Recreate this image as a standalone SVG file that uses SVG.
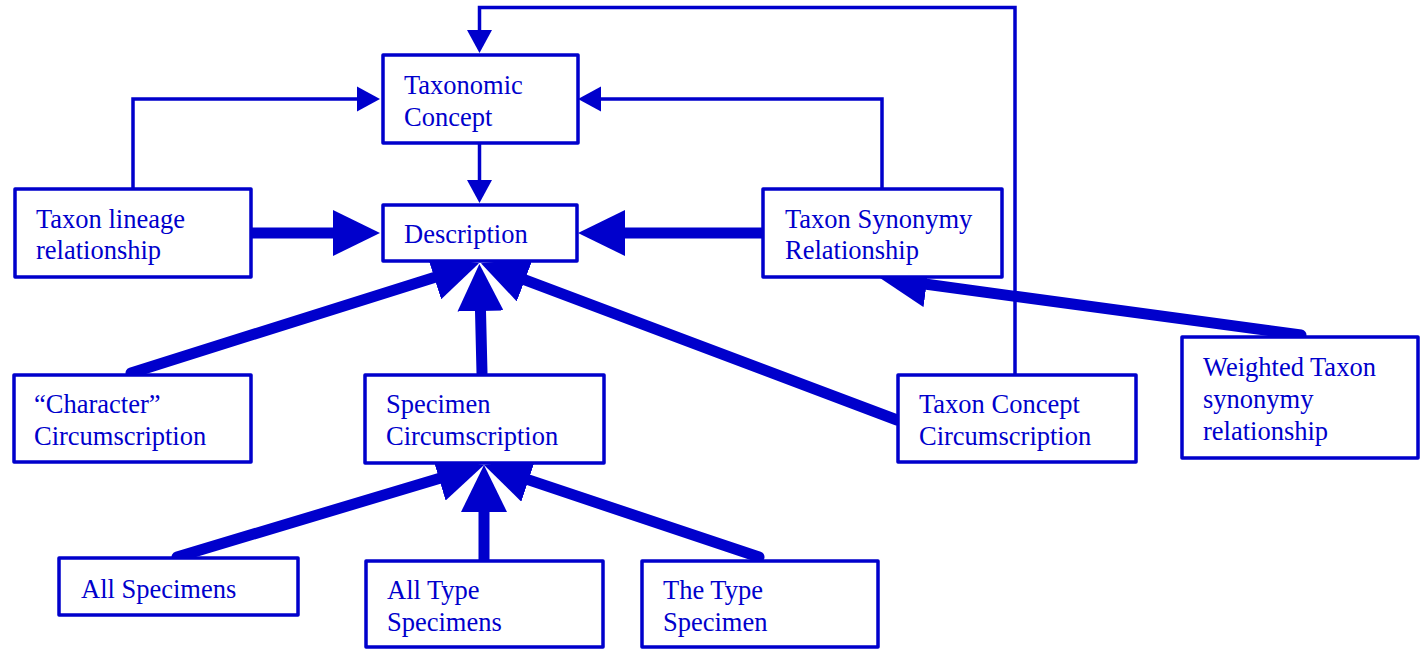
<svg xmlns="http://www.w3.org/2000/svg" width="1421" height="650" viewBox="0 0 1421 650">
<style>
.box{fill:#fff;stroke:#0000CC;stroke-width:3.5;stroke-linejoin:round}
.t{font-family:"Liberation Serif","Times New Roman",serif;font-size:26.5px;fill:#0000CC}
.thin{fill:none;stroke:#0000CC;stroke-width:3.5;stroke-linejoin:miter}
.thick{fill:none;stroke:#0000CC;stroke-width:11;stroke-linecap:round}
</style>
<defs>
<marker id="ah" markerUnits="userSpaceOnUse" markerWidth="48" markerHeight="46" refX="0" refY="23" orient="auto" viewBox="0 0 48 46">
<path d="M0,0 L47,23 L0,46 Z" fill="#0000CC"/>
</marker>
<marker id="as" markerUnits="userSpaceOnUse" markerWidth="24" markerHeight="26" refX="0" refY="13" orient="auto" viewBox="0 0 24 26">
<path d="M0,0.5 L23,13 L0,25.5 Z" fill="#0000CC"/>
</marker>
</defs>
<rect width="1421" height="650" fill="#fff"/>
<g id="connectors">
<polyline class="thin" points="1015,375 1015,7.5 479.5,7.5 479.5,30" marker-end="url(#as)"/>
<polyline class="thin" points="133,189 133,99 357,99" marker-end="url(#as)"/>
<polyline class="thin" points="882,189 882,99 601,99" marker-end="url(#as)"/>
<line class="thin" x1="479.5" y1="143" x2="479.5" y2="180" marker-end="url(#as)"/>
<line class="thick" x1="251" y1="233" x2="333" y2="233" marker-end="url(#ah)"/>
<line class="thick" x1="762" y1="233" x2="625" y2="233" marker-end="url(#ah)"/>
<line class="thick" x1="131" y1="373" x2="434.2" y2="277.4" marker-end="url(#ah)"/>
<line class="thick" x1="482" y1="373" x2="480.5" y2="311" marker-end="url(#ah)"/>
<line class="thick" x1="897" y1="420" x2="524.9" y2="279.9" marker-end="url(#ah)"/>
<line class="thick" x1="1301" y1="335" x2="926.6" y2="284.3" marker-end="url(#ah)"/>
<line class="thick" x1="177" y1="557" x2="439" y2="478.5" marker-end="url(#ah)"/>
<line class="thick" x1="484" y1="561" x2="484" y2="512" marker-end="url(#ah)"/>
<line class="thick" x1="759" y1="557" x2="528.6" y2="479.9" marker-end="url(#ah)"/>
</g>
<g id="taxonomic-concept">
<rect class="box" x="383" y="55" width="195" height="88"/>
<text class="t" x="404" y="94">Taxonomic</text>
<text class="t" x="404" y="126">Concept</text>
</g>
<g id="description">
<rect class="box" x="383" y="205" width="194" height="56"/>
<text class="t" x="404" y="243">Description</text>
</g>
<g id="taxon-lineage">
<rect class="box" x="15" y="189" width="236" height="88"/>
<text class="t" x="36" y="228">Taxon lineage</text>
<text class="t" x="36" y="259">relationship</text>
</g>
<g id="taxon-synonymy">
<rect class="box" x="763" y="189" width="239" height="88"/>
<text class="t" x="785" y="228">Taxon Synonymy</text>
<text class="t" x="785" y="259">Relationship</text>
</g>
<g id="character-circumscription">
<rect class="box" x="14" y="375" width="237" height="87"/>
<text class="t" x="34" y="413">“Character”</text>
<text class="t" x="34" y="445">Circumscription</text>
</g>
<g id="specimen-circumscription">
<rect class="box" x="365" y="375" width="239" height="88"/>
<text class="t" x="386" y="413">Specimen</text>
<text class="t" x="386" y="445">Circumscription</text>
</g>
<g id="taxon-concept-circumscription">
<rect class="box" x="898" y="375" width="238" height="87"/>
<text class="t" x="919" y="413">Taxon Concept</text>
<text class="t" x="919" y="445">Circumscription</text>
</g>
<g id="weighted-taxon">
<rect class="box" x="1182" y="337" width="236" height="121"/>
<text class="t" x="1203" y="376">Weighted Taxon</text>
<text class="t" x="1203" y="408">synonymy</text>
<text class="t" x="1203" y="440">relationship</text>
</g>
<g id="all-specimens">
<rect class="box" x="59" y="558" width="239" height="57"/>
<text class="t" x="81" y="598">All Specimens</text>
</g>
<g id="all-type-specimens">
<rect class="box" x="366" y="561" width="237" height="86"/>
<text class="t" x="387" y="599">All Type</text>
<text class="t" x="387" y="631">Specimens</text>
</g>
<g id="the-type-specimen">
<rect class="box" x="642" y="561" width="236" height="86"/>
<text class="t" x="663" y="599">The Type</text>
<text class="t" x="663" y="631">Specimen</text>
</g>
</svg>
